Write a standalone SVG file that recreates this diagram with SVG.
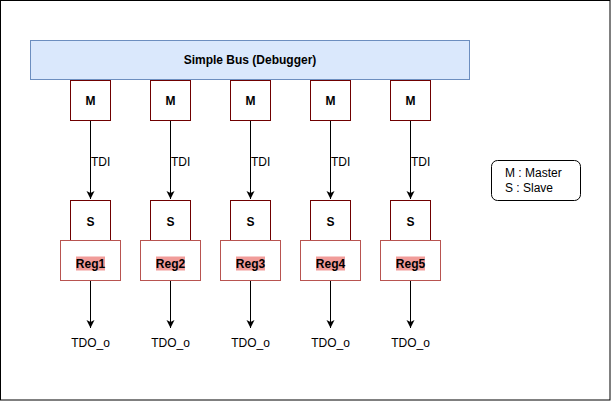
<svg xmlns="http://www.w3.org/2000/svg" width="611" height="401" viewBox="0 0 611 401">
<defs>
<style>
text{font-family:"Liberation Sans",Arial,sans-serif;font-size:12px;fill:#000}
.b{font-weight:bold}
.m{fill:#fff;stroke:#6f0000;stroke-width:1}
.r{fill:#fff;stroke:#b85450;stroke-width:1}
.hl{fill:#f19c99}
.e{stroke:#000;stroke-width:1;fill:none}
</style>
<marker id="ah" markerWidth="10" markerHeight="10" refX="8" refY="4" orient="auto" markerUnits="userSpaceOnUse">
<path d="M0,0 L8,4 L0,8 L2,4 Z" fill="#000"/>
</marker>
</defs>
<rect x="0.5" y="0.5" width="609.5" height="399.5" fill="#fff" stroke="#000"/>
<g id="bus">
<rect x="30.5" y="40.5" width="439" height="39" fill="#dae8fc" stroke="#6c8ebf"/>
<text x="250" y="64" text-anchor="middle" class="b">Simple Bus (Debugger)</text>
</g>
<g id="legend">
<rect x="491.5" y="160.5" width="89" height="40" rx="6" fill="#fff" stroke="#000"/>
<text x="505" y="177">M : Master</text>
<text x="505" y="192">S : Slave</text>
</g>
<g id="m1"><rect class="m" x="70.5" y="80.5" width="40" height="40"/><text class="b" x="90.5" y="105" text-anchor="middle">M</text></g>
<g id="m2"><rect class="m" x="150.5" y="80.5" width="40" height="40"/><text class="b" x="170.5" y="105" text-anchor="middle">M</text></g>
<g id="m3"><rect class="m" x="230.5" y="80.5" width="40" height="40"/><text class="b" x="250.5" y="105" text-anchor="middle">M</text></g>
<g id="m4"><rect class="m" x="310.5" y="80.5" width="40" height="40"/><text class="b" x="330.5" y="105" text-anchor="middle">M</text></g>
<g id="m5"><rect class="m" x="390.5" y="80.5" width="40" height="40"/><text class="b" x="410.5" y="105" text-anchor="middle">M</text></g>
<g id="s1"><rect class="m" x="70.5" y="200.5" width="40" height="40"/><text class="b" x="90.5" y="226" text-anchor="middle">S</text></g>
<g id="s2"><rect class="m" x="150.5" y="200.5" width="40" height="40"/><text class="b" x="170.5" y="226" text-anchor="middle">S</text></g>
<g id="s3"><rect class="m" x="230.5" y="200.5" width="40" height="40"/><text class="b" x="250.5" y="226" text-anchor="middle">S</text></g>
<g id="s4"><rect class="m" x="310.5" y="200.5" width="40" height="40"/><text class="b" x="330.5" y="226" text-anchor="middle">S</text></g>
<g id="s5"><rect class="m" x="390.5" y="200.5" width="40" height="40"/><text class="b" x="410.5" y="226" text-anchor="middle">S</text></g>
<g id="reg1"><rect class="r" x="60.5" y="240.5" width="60" height="40"/><rect class="hl" x="76" y="256.5" width="29" height="14"/><text class="b" x="90.5" y="268" text-anchor="middle">Reg1</text></g>
<g id="reg2"><rect class="r" x="140.5" y="240.5" width="60" height="40"/><rect class="hl" x="156" y="256.5" width="29" height="14"/><text class="b" x="170.5" y="268" text-anchor="middle">Reg2</text></g>
<g id="reg3"><rect class="r" x="220.5" y="240.5" width="60" height="40"/><rect class="hl" x="236" y="256.5" width="29" height="14"/><text class="b" x="250.5" y="268" text-anchor="middle">Reg3</text></g>
<g id="reg4"><rect class="r" x="300.5" y="240.5" width="60" height="40"/><rect class="hl" x="316" y="256.5" width="29" height="14"/><text class="b" x="330.5" y="268" text-anchor="middle">Reg4</text></g>
<g id="reg5"><rect class="r" x="380.5" y="240.5" width="60" height="40"/><rect class="hl" x="396" y="256.5" width="29" height="14"/><text class="b" x="410.5" y="268" text-anchor="middle">Reg5</text></g>
<g id="connectors">
<path class="e" d="M90.5,121 V199" marker-end="url(#ah)"/>
<path class="e" d="M170.5,121 V199" marker-end="url(#ah)"/>
<path class="e" d="M250.5,121 V199" marker-end="url(#ah)"/>
<path class="e" d="M330.5,121 V199" marker-end="url(#ah)"/>
<path class="e" d="M410.5,121 V199" marker-end="url(#ah)"/>
<path class="e" d="M90.5,281 V328" marker-end="url(#ah)"/>
<path class="e" d="M170.5,281 V328" marker-end="url(#ah)"/>
<path class="e" d="M250.5,281 V328" marker-end="url(#ah)"/>
<path class="e" d="M330.5,281 V328" marker-end="url(#ah)"/>
<path class="e" d="M410.5,281 V328" marker-end="url(#ah)"/>
<text x="91" y="166">TDI</text>
<text x="171" y="166">TDI</text>
<text x="251" y="166">TDI</text>
<text x="331" y="166">TDI</text>
<text x="411" y="166">TDI</text>
<text x="90.5" y="347" text-anchor="middle">TDO_o</text>
<text x="170.5" y="347" text-anchor="middle">TDO_o</text>
<text x="250.5" y="347" text-anchor="middle">TDO_o</text>
<text x="330.5" y="347" text-anchor="middle">TDO_o</text>
<text x="410.5" y="347" text-anchor="middle">TDO_o</text>
</g>
</svg>
